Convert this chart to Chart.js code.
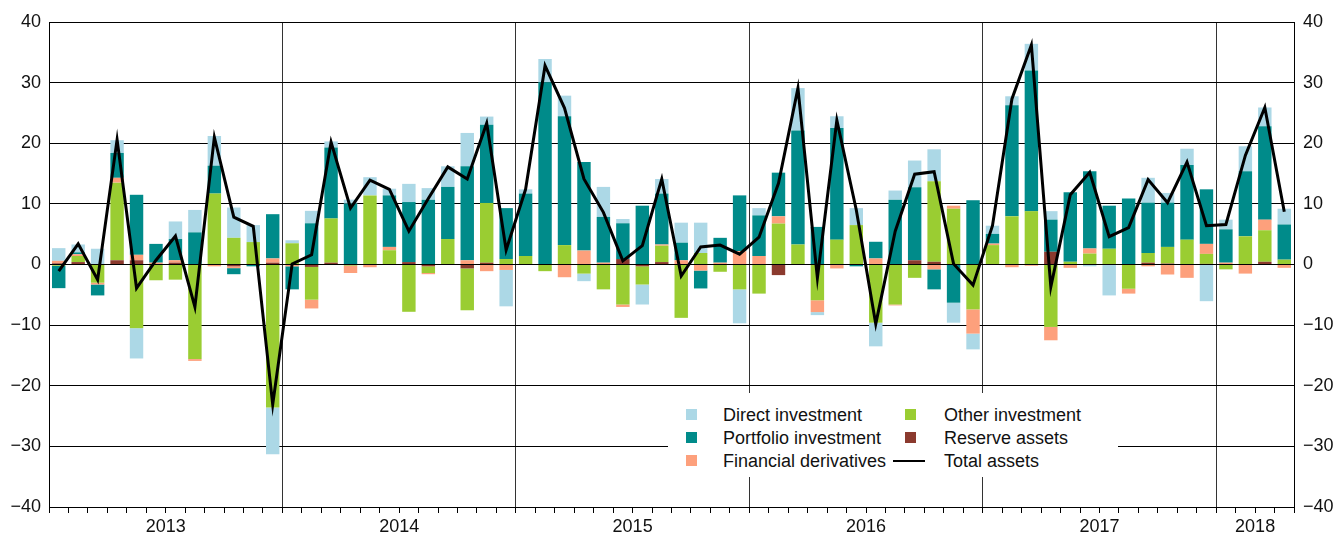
<!DOCTYPE html>
<html>
<head>
<meta charset="utf-8">
<script src="https://cdn.jsdelivr.net/npm/chart.js@4.4.1/dist/chart.umd.min.js"></script>
<style>
  body { margin: 0; background: #fff; font-family: 'Liberation Sans', Arial, sans-serif; }
  #wrap { position: relative; width: 1336px; height: 536px; }
  #legend {
    position: absolute; left: 668px; top: 393px; width: 450px; height: 84px;
    background: #fff; font-size: 18px; color: #111;
  }
  .item { position: absolute; height: 22px; line-height: 22px; white-space: nowrap; }
  .sw { position: absolute; top: 5px; width: 11px; height: 11px; }
  .ln { position: absolute; top: 10px; width: 32px; height: 2px; background: #000; }
</style>
</head>
<body>
<div id="wrap">
  <canvas id="chart"></canvas>
  <div id="legend"></div>
</div>
<script>
// monthly, Jan 2013 - Apr 2018
const months = [
  '2013-01','2013-02','2013-03','2013-04','2013-05','2013-06','2013-07','2013-08','2013-09','2013-10','2013-11','2013-12',
  '2014-01','2014-02','2014-03','2014-04','2014-05','2014-06','2014-07','2014-08','2014-09','2014-10','2014-11','2014-12',
  '2015-01','2015-02','2015-03','2015-04','2015-05','2015-06','2015-07','2015-08','2015-09','2015-10','2015-11','2015-12',
  '2016-01','2016-02','2016-03','2016-04','2016-05','2016-06','2016-07','2016-08','2016-09','2016-10','2016-11','2016-12',
  '2017-01','2017-02','2017-03','2017-04','2017-05','2017-06','2017-07','2017-08','2017-09','2017-10','2017-11','2017-12',
  '2018-01','2018-02','2018-03','2018-04'
];
const yearLabels = ['2013', '2014', '2015', '2016', '2017', '2018'];
const yearLabelAt = [6, 18, 30, 42, 54, 62];
const yTicks = [-40, -30, -20, -10, 0, 10, 20, 30, 40];

const directInv = [
  2.1, 1.3, 2.6, 2.1, -5.0, 0, 2.9, 3.7, 4.9, 5.0, 2.8, -7.7,
  0.5, 2.05, 1.0, 0.65, 3.0, 1.1, 3.0, 1.9, 3.4, 5.5, 1.35, -6.0,
  0.7, 3.85, 3.4, -1.25, 4.95, 0.7, -3.3, 2.4, 3.3, 5.0, 0, -5.6,
  1.2, 0, 7.0, -0.5, 1.95, 2.8, -3.9, 1.5, 4.4, 5.25, -3.3, -2.6,
  1.35, 1.5, 4.4, 1.4, 0, -0.3, -5.1, 0, 4.1, 1.6, 2.7, -6.05,
  1.6, 4.1, 3.1, 2.6
];
const portfolioInv = [
  -3.7, 0.3, -1.8, 4.1, 9.9, 3.1, 3.5, 5.3, 4.6, -1.0, -0.3, 7.3,
  -3.8, 6.8, 11.7, 10.05, 0, 8.5, 9.9, 10.7, 8.6, 15.5, 12.9, 8.4,
  10.3, 30.05, 21.25, 14.6, 7.55, 5.9, 9.7, 8.4, 2.9, -2.95, 4.1, 9.2,
  6.7, 7.2, 18.8, 6.2, 18.4, -0.3, 2.75, 10.7, 12.05, -3.3, -6.3, 10.6,
  1.6, 18.3, 23.2, 5.3, 11.45, 12.75, 7.1, 10.9, 8.3, 7.3, 12.3, 9.0,
  5.5, 10.75, 15.4, 5.8
];
const finDerivatives = [
  0.4, 0.3, -0.3, 0.8, 0.9, 0.3, 0.4, -0.3, -0.3, -0.3, 0, 0.7,
  -0.3, -1.45, 0, -1.2, -0.45, 0.55, 0, -0.2, 0, 0.7, -1.1, -0.9,
  0, 0, -2.1, 2.3, 0.3, -0.4, 0, 0.2, 0.7, -1.0, 0.3, 2.2,
  1.4, 1.2, 0, -1.95, -0.65, 0, 1.0, -0.15, 0, -0.8, 0.5, -4.0,
  0.25, -0.45, -0.2, -2.2, -0.55, 0.85, 0, -0.8, -0.3, -1.65, -2.2, 1.65,
  0.3, -1.5, 1.75, -0.55
];
const otherInv = [
  -0.2, 1.0, -3.0, 12.8, -10.5, -2.6, -2.5, -15.6, 11.7, 4.4, 3.7, -23.6,
  3.5, -5.4, 7.3, -0.1, 11.4, 2.35, -7.8, -1.1, 4.2, -6.9, 9.85, 0.9,
  1.4, -1.1, 3.2, -1.5, -4.1, -6.6, -3.0, 2.7, -8.8, 1.9, -1.2, -4.1,
  -4.8, 6.75, 3.3, -5.9, 4.1, 6.5, -9.6, -6.6, -2.2, 13.3, 9.2, -7.4,
  3.2, 7.95, 8.8, -10.3, 0.45, 1.8, 2.6, -4.0, 1.6, 2.75, 4.1, 1.65,
  -0.8, 4.65, 5.2, 0.8
];
const reserveAssets = [
  0.2, 0.4, 0, 0.7, 0.7, 0, 0.3, 0, 0, -0.3, 0, 0.3,
  0, -0.4, 0.3, -0.1, 0, 0, 0.4, -0.3, 0, -0.65, 0.3, 0,
  0, 0, 0, 0, 0, 0.9, -0.3, 0.4, 0, 0, 0, 0,
  0, -1.75, 0, 0, 0, 0, 0, 0, 0.7, 0.45, 0, 0,
  0, 0, 0, 2.1, 0, 0, 0, 0, 0.3, 0.15, 0, 0.1,
  0, 0, 0.45, 0
];
const totalAssets = [
  -1.1, 3.4, -2.5, 20.6, -3.9, 0.7, 4.7, -7.0, 21.0, 7.8, 6.3, -23.1,
  0.1, 1.6, 20.2, 9.3, 13.9, 12.4, 5.5, 10.9, 16.1, 14.1, 23.3, 2.4,
  12.4, 32.8, 25.8, 14.1, 8.6, 0.6, 3.1, 14.1, -1.9, 2.9, 3.2, 1.7,
  4.5, 13.4, 29.1, -2.2, 23.8, 9.0, -9.8, 5.5, 14.9, 15.3, 0.1, -3.4,
  6.4, 27.3, 36.2, -3.7, 11.5, 15.2, 4.6, 6.1, 14.0, 10.2, 16.9, 6.4,
  6.6, 18.0, 25.9, 8.7
];

const colDI = '#acd8e6';
const colPI = '#008b8a';
const colFD = '#fda07c';
const colOI = '#9acd32';
const colRA = '#8b3a2e';

const fontFamily = "'Liberation Sans', Arial, sans-serif";
const minus = v => (v < 0 ? '\u2212' + Math.abs(v) : String(v));

function barSet(label, data, color) {
  return {
    type: 'bar', label, data, backgroundColor: color,
    stack: 'assets', order: 2,
    barPercentage: 0.69, categoryPercentage: 1.0,
    borderWidth: 0
  };
}

const chart = new Chart(document.getElementById('chart'), {
  data: {
    labels: months,
    datasets: [
      // stacking order from the zero line outwards
      barSet('Reserve assets', reserveAssets, colRA),
      barSet('Other investment', otherInv, colOI),
      barSet('Financial derivatives', finDerivatives, colFD),
      barSet('Portfolio investment', portfolioInv, colPI),
      barSet('Direct investment', directInv, colDI),
      {
        type: 'line', label: 'Total assets', data: totalAssets,
        borderColor: '#000', borderWidth: 3, pointRadius: 0,
        tension: 0, stack: 'total', order: 0, yAxisID: 'y'
      }
    ]
  },
  options: {
    responsive: true,
    maintainAspectRatio: false,
    animation: false,
    layout: { padding: { top: 22, left: 0, right: 0, bottom: 0 } },
    plugins: { legend: { display: false }, tooltip: { enabled: false } },
    scales: {
      x: {
        stacked: true,
        offset: true,
        grid: {
          offset: true,
          color: (ctx) => (ctx.index % 12 === 0 && ctx.index > 0 ? '#333' : 'rgba(0,0,0,0)'),
          tickColor: '#000',
          tickLength: 6,
          lineWidth: 1
        },
        border: { display: true, color: '#000' },
        ticks: {
          autoSkip: false, maxRotation: 0, minRotation: 0,
          labelOffset: -9.7, padding: 3,
          color: '#111', font: { family: fontFamily, size: 18 },
          callback: (val, i) => {
            const k = yearLabelAt.indexOf(i);
            return k >= 0 ? yearLabels[k] : '';
          }
        },
        afterFit: (s) => { s.height = 29; }
      },
      y: {
        stacked: true,
        position: 'left',
        min: -40, max: 40,
        afterBuildTicks: (s) => { s.ticks = yTicks.map(v => ({ value: v })); },
        grid: { color: '#000', lineWidth: 1, drawTicks: false },
        border: { display: true, color: '#000' },
        ticks: {
          padding: 8, color: '#111', font: { family: fontFamily, size: 18 },
          callback: minus
        },
        afterFit: (s) => { s.width = 49; }
      },
      y2: {
        position: 'right',
        min: -40, max: 40,
        afterBuildTicks: (s) => { s.ticks = yTicks.map(v => ({ value: v })); },
        grid: { drawOnChartArea: false, drawTicks: false },
        border: { display: true, color: '#000' },
        ticks: {
          padding: 9, color: '#111', font: { family: fontFamily, size: 18 },
          callback: minus
        },
        afterFit: (s) => { s.width = 42; }
      }
    }
  }
});

// legend inside the plot, two columns
const legendItems = [
  { label: 'Direct investment', color: colDI, col: 0, row: 0 },
  { label: 'Portfolio investment', color: colPI, col: 0, row: 1 },
  { label: 'Financial derivatives', color: colFD, col: 0, row: 2 },
  { label: 'Other investment', color: colOI, col: 1, row: 0 },
  { label: 'Reserve assets', color: colRA, col: 1, row: 1 },
  { label: 'Total assets', color: '#000', col: 1, row: 2, line: true }
];
const legendEl = document.getElementById('legend');
legendItems.forEach(it => {
  const d = document.createElement('div');
  d.className = 'item';
  d.style.left = (it.col === 0 ? 18 : 225) + 'px';
  d.style.top = (11 + it.row * 23) + 'px';
  const mark = it.line
    ? `<span class="ln" style="left:0px"></span>`
    : `<span class="sw" style="left:${it.col === 0 ? 0 : 12}px;background:${it.color}"></span>`;
  d.innerHTML = mark + `<span style="margin-left:${it.col === 0 ? 37 : 51}px">${it.label}</span>`;
  legendEl.appendChild(d);
});
</script>
</body>
</html>
